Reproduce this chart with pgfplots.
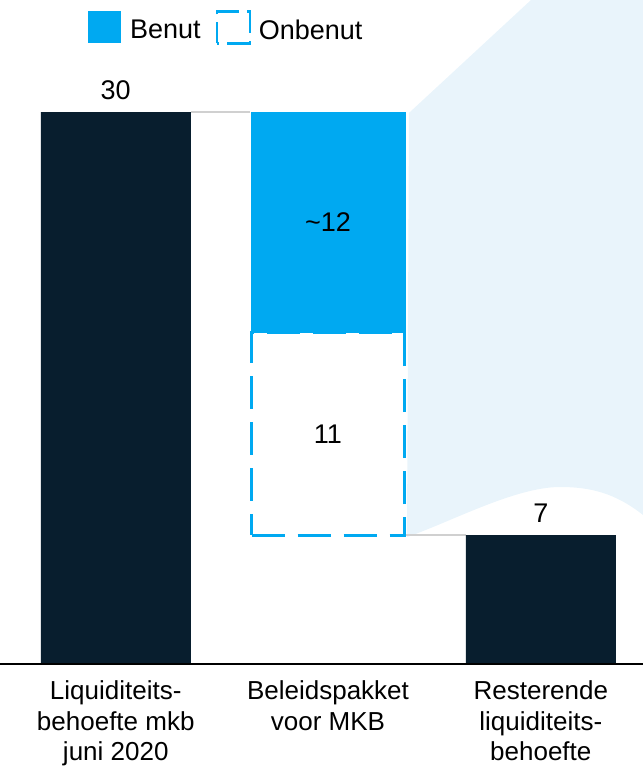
\documentclass[border=0pt]{standalone}
\usepackage{pgfplots}
\pgfplotsset{compat=1.18}
\usepackage{fontspec}
\setmainfont{Liberation Sans}
\definecolor{navy}{HTML}{081E2E}
\definecolor{cblue}{HTML}{00A9F1}
\definecolor{bgblue}{HTML}{E9F4FB}
\definecolor{conn}{HTML}{D0D0D0}
\newcommand{\chartfont}{\fontsize{13.5}{16.5}\selectfont}
\newcommand{\tickfont}{\fontsize{13}{15.25}\selectfont}
\pgfplotsset{common/.style={width=321.5pt,height=332pt,scale only axis,
  xmin=0,xmax=643,ymin=0,ymax=36.087,clip=false}}
\begin{document}
\begin{tikzpicture}
\path[use as bounding box] (0pt,-52pt) rectangle (321.5pt,332pt);
\begin{axis}[common,
  axis x line*=bottom, axis y line=none, axis on top,
  x axis line style={line width=1.2pt, black, -},
  xtick={115.75,328,540.8},
  xticklabels={{Liquiditeits-\\behoefte mkb\\juni 2020},{Beleidspakket\\voor MKB},{Resterende\\liquiditeits-\\behoefte}},
  xticklabel style={align=center, font=\tickfont, anchor=north, inner sep=0pt, yshift=-8.2pt},
  major tick length=0pt, ytick=\empty]
\fill[bgblue] (axis cs:409,29.95) -- (axis cs:531,36.087) -- (axis cs:643,36.087) -- (axis cs:643,8.1)
  .. controls (axis cs:615,9.3) and (axis cs:590,9.62) .. (axis cs:560,9.62)
  .. controls (axis cs:515,9.62) and (axis cs:450,7.7) .. (axis cs:407,6.9) -- cycle;
\addplot[conn, line width=1pt] coordinates {(190.5,30) (250,30)};
\addplot[conn, line width=1pt] coordinates {(405,7) (466,7)};
\addplot[ybar, bar width=150, bar shift=0pt, fill=navy, draw=none,
  nodes near coords,
  nodes near coords style={font=\chartfont, anchor=south, inner sep=0pt, yshift=6pt, text=black,
    /pgf/number format/assume math mode=true}]
  coordinates {(115.75,30) (540.8,7)};
\end{axis}
\begin{axis}[common, hide axis, ybar stacked,
  reverse legend, legend columns=2,
  legend image code/.code={\path[#1,/tikz/.cd,dash pattern=on 12.5pt off 4pt,dash phase=2pt] (0pt,-6.35pt) rectangle (16.5pt,9.65pt); \path[draw=none,fill=none] (0pt,0pt) -- (19pt,0pt);},
  legend style={at={(axis cs:88,35.54)}, anchor=north west, draw=none, fill=none,
    inner sep=0pt, outer sep=0pt, font=\chartfont,
    /tikz/every even column/.append style={column sep=5.5pt}}]
\addplot[fill=none, draw=none, bar width=155, forget plot] coordinates {(328,7)};
\addplot[fill=white, draw=cblue, line width=1.35pt, dash pattern=on 16.5pt off 6.5pt, bar width=153] coordinates {(328,11)};
\addlegendentry{Onbenut}
\addplot[fill=cblue, draw=none, bar width=155] coordinates {(328,12)};
\addlegendentry{Benut}
\coordinate (lblA) at (axis cs:328,24);
\coordinate (lblB) at (axis cs:328,12.5);
\end{axis}
\node[font=\chartfont] at (lblA) {\textasciitilde12};
\node[font=\chartfont] at (lblB) {11};
\end{tikzpicture}
\end{document}
